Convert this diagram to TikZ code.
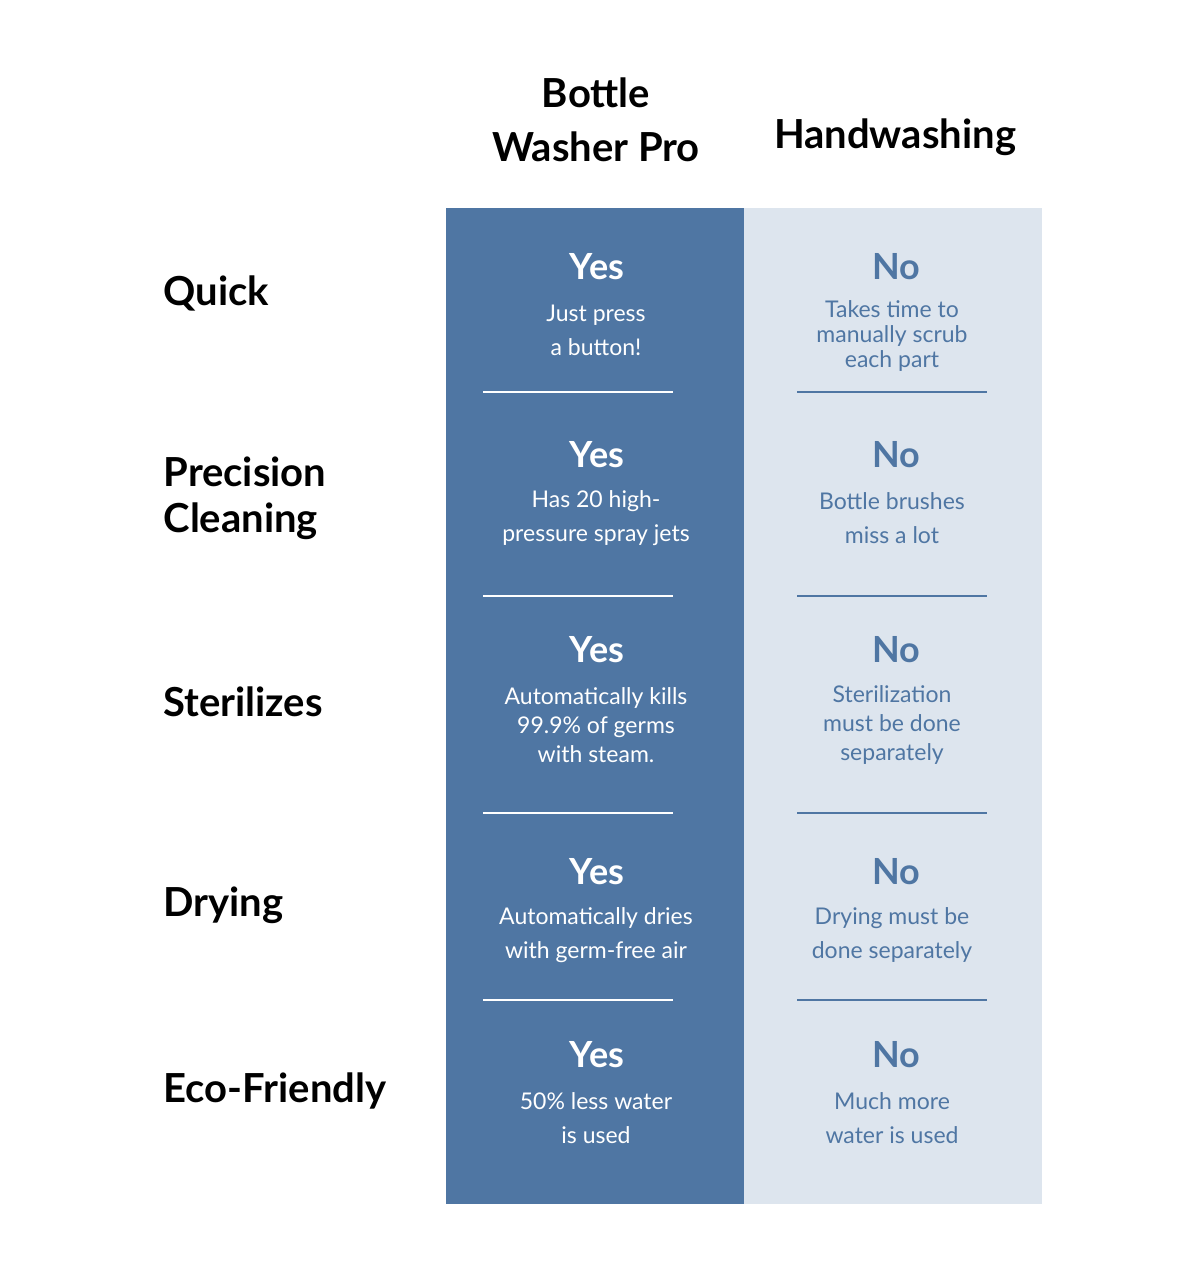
\documentclass[tikz,border=0pt]{standalone}
\usepackage{fontspec}
\setmainfont{Lato}
\definecolor{dblue}{HTML}{4F76A3}
\definecolor{lblue}{HTML}{DDE5EE}
\begin{document}
\begin{tikzpicture}[x=1pt,y=-1pt,
  head/.style={font=\fontsize{40}{54}\selectfont\bfseries,align=center,text=black},
  rowlab/.style={font=\fontsize{40}{46}\selectfont\bfseries,align=left,anchor=west,text=black},
  yes/.style={font=\fontsize{36}{40}\selectfont\bfseries,text=white},
  no/.style={font=\fontsize{36}{40}\selectfont\bfseries,text=dblue},
  ybody/.style={font=\fontsize{23}{34}\selectfont,align=center,text=white},
  nbody/.style={font=\fontsize{23}{34}\selectfont,align=center,text=dblue}]
\useasboundingbox (0,0) rectangle (1200,1284);
\fill[dblue] (446,208) rectangle (744,1204);
\fill[lblue] (744,208) rectangle (1042,1204);
\node[head] (h1) at (596,120) {Bottle\\Washer Pro};
\node[head] (h2) at (895,137) {Handwashing};
\node[rowlab] (r1) at (160,293) {Quick};
\node[rowlab] (r2) at (160,498) {Precision\\Cleaning};
\node[rowlab] (r3) at (160,702) {Sterilizes};
\node[rowlab] (r4) at (160,905) {Drying};
\node[rowlab] (r5) at (160,1091) {Eco-Friendly};
\foreach \y in {392,596,813,1000}{
  \draw[white,line width=2pt] (483,\y) -- (673,\y);
  \draw[dblue,line width=2pt] (797,\y) -- (987,\y);}
\node[yes] (y1) at (597,267) {Yes};
\node[yes] (y2) at (597,455) {Yes};
\node[yes] (y3) at (597,650) {Yes};
\node[yes] (y4) at (597,872) {Yes};
\node[yes] (y5) at (597,1055) {Yes};
\node[no] (n1) at (896,267) {No};
\node[no] (n2) at (896,455) {No};
\node[no] (n3) at (896,650) {No};
\node[no] (n4) at (896,872) {No};
\node[no] (n5) at (896,1055) {No};
\node[ybody] (b1) at (596,330) {Just press\\a button!};
\node[ybody] (b2) at (596,518) {Has 20 high-\\pressure spray jets};
\node[ybody,font=\fontsize{23}{29}\selectfont] (b3) at (596,725) {Automatically kills\\99.9\% of germs\\with steam.};
\node[ybody] (b4) at (596,935) {Automatically dries\\with germ-free air};
\node[ybody] (b5) at (596,1118) {50\% less water\\is used};
\node[nbody,font=\fontsize{23}{25}\selectfont] (c1) at (892,336) {Takes time to\\manually scrub\\each part};
\node[nbody] (c2) at (892,518) {Bottle brushes\\miss a lot};
\node[nbody,font=\fontsize{23}{29}\selectfont] (c3) at (892,725) {Sterilization\\must be done\\separately};
\node[nbody] (c4) at (892,935) {Drying must be\\done separately};
\node[nbody] (c5) at (892,1118) {Much more\\water is used};
\end{tikzpicture}
\end{document}
